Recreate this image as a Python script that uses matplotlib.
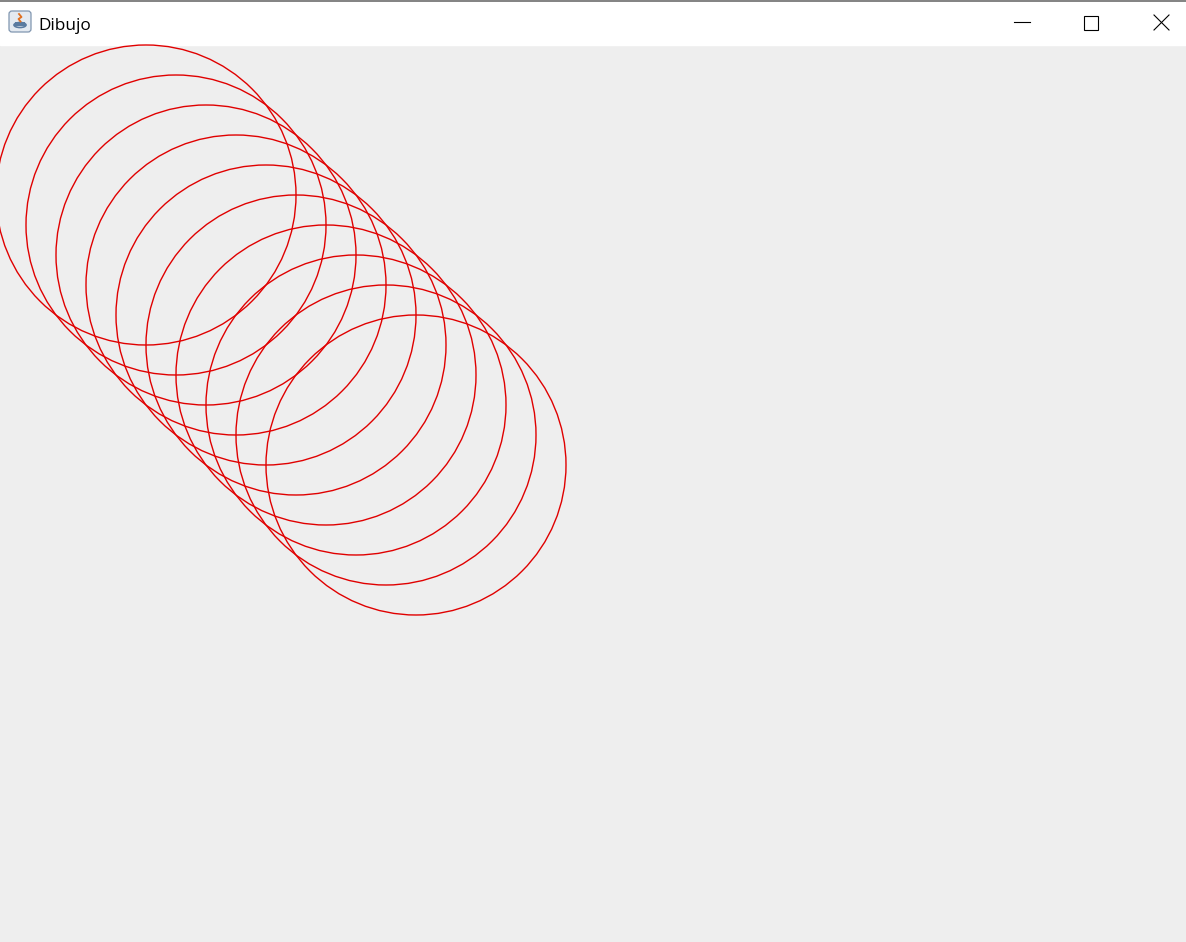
import matplotlib
matplotlib.use("Agg")
import matplotlib.pyplot as plt
from matplotlib.patches import Circle, Rectangle, FancyBboxPatch, Ellipse

# window
W, H = 1186, 942
title_h = 45
window_title = "Dibujo"

# circles (pixel coords in the window)
center_x = [146, 176, 206, 236, 266, 296, 326, 356, 386, 416]
center_y = [195, 225, 255, 285, 315, 345, 375, 405, 435, 465]
radius = [150] * 10

fig = plt.figure(figsize=(W / 100, H / 100), dpi=100)
ax = fig.add_axes([0, 0, 1, 1])
ax.set_xlim(0, W)
ax.set_ylim(H, 0)
ax.axis("off")

# content area + title bar
ax.add_patch(Rectangle((0, title_h), W, H - title_h, color="#eeeeee", zorder=0))
ax.add_patch(Rectangle((0, 0), W, title_h, color="white", zorder=0))
ax.plot([0, W], [0.5, 0.5], color="#6d6d6d", lw=1.2, zorder=1)

# java icon (rough)
ax.add_patch(FancyBboxPatch((9, 11), 22, 21, boxstyle="round,pad=0,rounding_size=3",
                            fc="#e4eaf1", ec="#8096b0", lw=0.9, zorder=2))
ax.add_patch(Ellipse((20, 25), 12, 5, fc="none", ec="#5a7ba0", lw=1.2, zorder=3))
ax.add_patch(Rectangle((15, 22), 10, 4, fc="#5a7ba0", ec="none", zorder=3))
ax.plot([19, 21.5, 18.5, 20.5], [14, 17, 19, 21.5], color="#e07020", lw=1.3, zorder=3)

ax.text(38, 30.5, window_title, fontsize=12.4, family="Open Sans", va="baseline", ha="left",
        color="black", zorder=3)

# window buttons
ax.plot([1014, 1030], [22, 22], color="black", lw=0.8)
ax.add_patch(Rectangle((1083.5, 15.5), 14, 14, fill=False, ec="black", lw=0.8))
ax.plot([1154, 1169], [15, 30], color="black", lw=0.8)
ax.plot([1154, 1169], [30, 15], color="black", lw=0.8)

for cx, cy, r in zip(center_x, center_y, radius):
    ax.add_patch(Circle((cx, cy), r, fill=False, ec="#e00000", lw=1.0, zorder=4))

fig.savefig("out.png", dpi=100)
